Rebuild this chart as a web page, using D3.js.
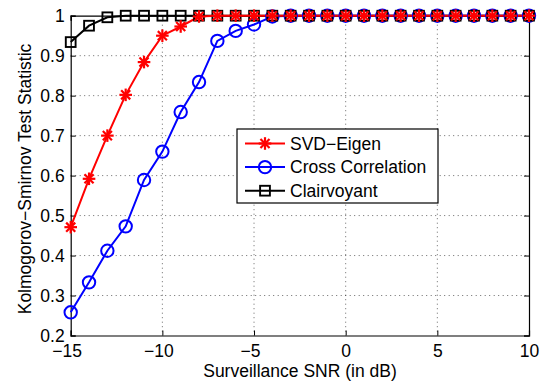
<!DOCTYPE html>
<html><head><meta charset="utf-8">
<script src="https://cdn.jsdelivr.net/npm/d3@7"></script>
<style>body{margin:0;background:#fff}svg{display:block}text{font-family:"Liberation Sans",Arial,Helvetica,sans-serif}</style>
</head><body><svg id="c" width="546" height="383"></svg>
<script>
const snr = [-15,-14,-13,-12,-11,-10,-9,-8,-7,-6,-5,-4,-3,-2,-1,0,1,2,3,4,5,6,7,8,9,10];
const svdEigen = [0.471,0.592,0.700,0.802,0.884,0.950,0.973,0.998,1,1,1,1,1,1,1,1,1,1,1,1,1,1,1,1,1,1];
const crossCorr = [0.258,0.333,0.412,0.473,0.589,0.660,0.759,0.834,0.937,0.962,0.978,0.998,1,1,1,1,1,1,1,1,1,1,1,1,1,1];
const clairvoyant = [0.934,0.975,0.996,1,1,1,1,1,1,1,1,1,1,1,1,1,1,1,1,1,1,1,1,1,1,1];
const xTicks = [-15,-10,-5,0,5,10];
const yTicks = [0.2,0.3,0.4,0.5,0.6,0.7,0.8,0.9,1];
const seriesNames = ["SVD\u2212Eigen","Cross Correlation","Clairvoyant"];

const FS = 17.5;
const svg = d3.select("#c");
const L=70.7, R=529, T=15.7, B=335.5;
const x = d3.scaleLinear().domain([-15,10]).range([L,R]);
const y = d3.scaleLinear().domain([0.2,1]).range([B,T]);
const fmtX = d => d<0 ? "\u2212"+Math.abs(d) : String(d);
const fmtY = d => d===1 ? "1" : String(d);

// grid
const g = svg.append("g");
g.selectAll(".gx").data(xTicks.slice(1,-1)).enter().append("line")
 .attr("x1",d=>x(d)).attr("x2",d=>x(d)).attr("y1",T).attr("y2",B)
 .attr("stroke","#000").attr("stroke-width",0.6).attr("stroke-dasharray","1,3.5");
g.selectAll(".gy").data(yTicks.slice(1,-1)).enter().append("line")
 .attr("y1",d=>y(d)).attr("y2",d=>y(d)).attr("x1",L).attr("x2",R)
 .attr("stroke","#000").attr("stroke-width",0.6).attr("stroke-dasharray","1,3.5");

// axes (ticks inside)
const ax = svg.append("g").attr("transform",`translate(0,${B})`)
 .call(d3.axisBottom(x).tickValues(xTicks).tickFormat(fmtX).tickSize(-5).tickPadding(9.5));
const ay = svg.append("g").attr("transform",`translate(${L},0)`)
 .call(d3.axisLeft(y).tickValues(yTicks).tickFormat(fmtY).tickSize(-5).tickPadding(6));
const axT = svg.append("g").attr("transform",`translate(0,${T})`)
 .call(d3.axisTop(x).tickValues(xTicks).tickFormat("").tickSize(-5));
const ayR = svg.append("g").attr("transform",`translate(${R},0)`)
 .call(d3.axisRight(y).tickValues(yTicks).tickFormat("").tickSize(-5));
[ax,ay,axT,ayR].forEach(a=>{
 a.selectAll("path").attr("stroke","#000").attr("stroke-width",1.2);
 a.selectAll("line").attr("stroke","#000").attr("stroke-width",1);
 a.selectAll("text").attr("font-size",FS).attr("fill","#000")
  .attr("font-family",'"Liberation Sans",Arial,sans-serif');
});
ax.selectAll("text").attr("dy","0.71em").attr("dx",d=>d<0?-4:0);

// labels
svg.append("text").attr("x",300).attr("y",377).attr("text-anchor","middle")
 .attr("font-size",FS).text("Surveillance SNR (in dB)");
svg.append("text").attr("transform",`translate(31,179) rotate(-90)`)
 .attr("text-anchor","middle").attr("font-size",FS).text("Kolmogorov\u2212Smirnov Test Statistic");

const series = [
 {name:seriesNames[0], vals:svdEigen, color:"#ff0000", m:"star"},
 {name:seriesNames[1], vals:crossCorr, color:"#0000ff", m:"circle"},
 {name:seriesNames[2], vals:clairvoyant, color:"#000000", m:"square"}
];
function marker(sel, type, color){
 if(type==="circle"){
  sel.append("circle").attr("r",6.2).attr("fill","none").attr("stroke",color).attr("stroke-width",2);
 } else if(type==="square"){
  sel.append("rect").attr("x",-4.9).attr("y",-4.9).attr("width",9.8).attr("height",9.8)
   .attr("fill","none").attr("stroke",color).attr("stroke-width",1.9);
 } else {
  const r=6.3;
  const p = [[-r,0,r,0],[0,-r,0,r],[-r*0.72,-r*0.72,r*0.72,r*0.72],[-r*0.72,r*0.72,r*0.72,-r*0.72]];
  p.forEach(q=>sel.append("line").attr("x1",q[0]).attr("y1",q[1]).attr("x2",q[2]).attr("y2",q[3])
   .attr("stroke",color).attr("stroke-width",2.2));
 }
}
const line = d3.line().x((d,i)=>x(snr[i])).y(d=>y(d));
const order = [1,2,0];
order.forEach(k=>{
 const s=series[k];
 svg.append("path").datum(s.vals).attr("d",line).attr("fill","none")
  .attr("stroke",s.color).attr("stroke-width",2);
});
order.forEach(k=>{
 const s=series[k];
 svg.append("g").selectAll("g").data(s.vals).enter().append("g")
  .attr("transform",(d,i)=>`translate(${x(snr[i])},${y(d)})`)
  .each(function(){marker(d3.select(this),s.m,s.color);});
});

// legend
const lg = svg.append("g").attr("transform","translate(237,129)");
lg.append("rect").attr("width",201).attr("height",74).attr("fill","#fff")
 .attr("stroke","#000").attr("stroke-width",1.2);
series.forEach((s,i)=>{
 const yy = 14.5+i*23.6;
 lg.append("line").attr("x1",8).attr("x2",48).attr("y1",yy).attr("y2",yy)
  .attr("stroke",s.color).attr("stroke-width",2);
 const mg = lg.append("g").attr("transform",`translate(28,${yy})`);
 marker(mg,s.m,s.color);
 lg.append("text").attr("x",53).attr("y",yy+6.3).attr("font-size",FS).text(s.name);
});
</script></body></html>
